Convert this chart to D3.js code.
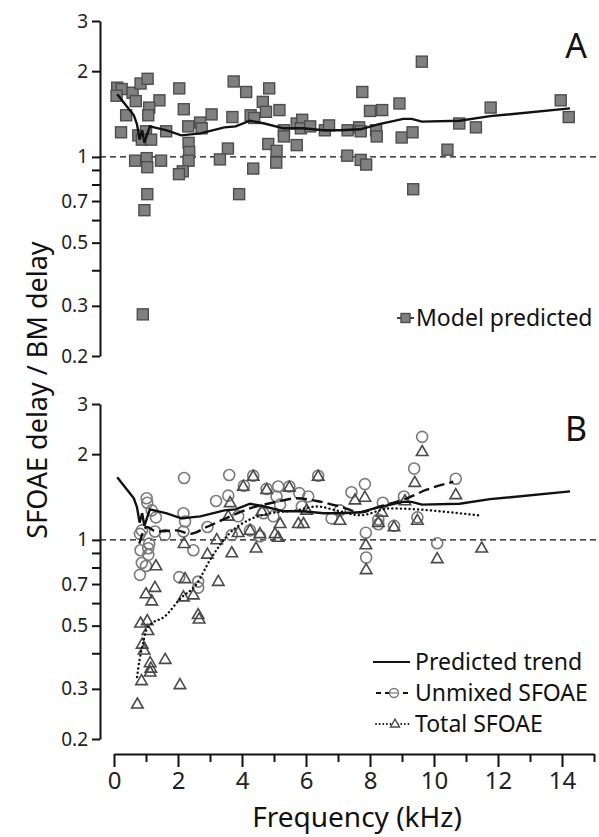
<!DOCTYPE html>
<html>
<head>
<meta charset="utf-8">
<script src="https://cdn.jsdelivr.net/npm/d3@7"></script>
<style>
    body { margin: 0; background: #fff; }
    svg { display: block; font-family: "Noto Sans", sans-serif; }
</style>
</head>
<body>
<svg id="chart" width="599" height="837"></svg>
<script>
// [frequency kHz, SFOAE delay / BM delay]
const modelPredicted = [
    [0.10, 1.75], [0.24, 1.73], [0.08, 1.64], [0.58, 1.68], [0.68, 1.57], [0.83, 1.81], [1.05, 1.88],
    [1.42, 1.58], [1.10, 1.49], [1.07, 1.40], [0.38, 1.40], [0.22, 1.22], [0.76, 1.19], [1.00, 1.23],
    [0.87, 1.15], [1.16, 1.15], [1.63, 1.23], [2.04, 1.74], [2.18, 1.47], [2.32, 1.28], [2.69, 1.32],
    [2.74, 1.26], [3.05, 1.41], [2.33, 1.12], [2.35, 1.04], [2.33, 0.97], [0.66, 0.97], [1.02, 0.99],
    [1.04, 0.92], [1.47, 0.97], [2.15, 0.89], [2.03, 0.87], [1.04, 0.74], [0.95, 0.65], [0.90, 0.28],
    [3.74, 1.84], [4.13, 1.69], [4.85, 1.74], [4.65, 1.56], [4.75, 1.44], [5.17, 1.46], [3.70, 1.38],
    [4.27, 1.40], [4.38, 1.37], [3.56, 1.07], [3.31, 0.98], [4.35, 0.91], [4.82, 1.11], [5.08, 1.05],
    [5.07, 0.955], [3.91, 0.74], [5.31, 1.24], [5.31, 1.18], [5.71, 1.10], [5.71, 1.31], [5.88, 1.35],
    [5.84, 1.26], [6.13, 1.28], [6.59, 1.24], [6.72, 1.29], [7.30, 1.24], [7.29, 1.01], [7.66, 1.27],
    [7.71, 1.23], [8.19, 1.24], [8.21, 1.18], [7.76, 1.69], [8.00, 1.45], [8.38, 1.46], [8.92, 1.54],
    [8.99, 1.17], [9.33, 1.22], [9.62, 2.16], [7.71, 0.976], [7.88, 0.94], [9.35, 0.77], [10.42, 1.06],
    [10.79, 1.31], [11.31, 1.27], [11.77, 1.49], [13.96, 1.58], [14.21, 1.38]
];

const predictedTrend = [
    [0.10, 1.66], [0.62, 1.40], [0.72, 1.30], [0.80, 1.15], [0.88, 1.24], [0.95, 1.12], [1.12, 1.28],
    [1.65, 1.24], [2.10, 1.19], [2.70, 1.21], [3.45, 1.27], [3.80, 1.28], [4.25, 1.34], [4.70, 1.31],
    [5.30, 1.26], [5.90, 1.26], [6.55, 1.24], [7.06, 1.24], [7.70, 1.25], [8.25, 1.30], [9.04, 1.36],
    [9.30, 1.36], [9.62, 1.33], [10.80, 1.34], [11.75, 1.39], [14.25, 1.48]
];

const unmixedPoints = [
    [2.19, 1.65], [3.60, 1.69], [4.35, 1.68], [6.38, 1.68], [1.02, 1.40], [1.04, 1.35], [1.18, 1.27],
    [1.31, 1.20], [3.19, 1.37], [3.57, 1.43], [4.06, 1.55], [4.77, 1.51], [5.13, 1.54], [5.48, 1.54],
    [5.08, 1.42], [5.19, 1.33], [5.79, 1.46], [6.07, 1.42], [5.87, 1.31], [2.17, 1.24], [2.22, 1.16],
    [3.88, 1.21], [4.67, 1.24], [4.98, 1.21], [4.25, 1.08], [4.56, 1.03], [0.87, 1.08], [0.81, 1.05],
    [1.28, 1.07], [1.59, 1.04], [2.17, 1.07], [2.92, 1.11], [3.68, 1.04], [1.10, 0.97], [1.07, 0.935],
    [0.83, 0.92], [1.07, 0.886], [0.87, 0.83], [1.00, 0.81], [0.81, 0.754], [2.48, 0.92], [2.04, 0.74],
    [2.63, 0.714], [2.63, 0.68], [6.80, 1.19], [7.06, 1.27], [7.42, 1.47], [9.63, 2.30], [9.38, 1.78],
    [10.68, 1.64], [7.84, 1.57], [8.40, 1.35], [9.06, 1.42], [8.26, 1.18], [8.26, 1.135], [8.75, 1.12],
    [9.48, 1.20], [7.87, 1.06], [7.88, 0.867], [10.10, 0.973]
];

const totalPoints = [
    [4.35, 1.67], [6.38, 1.67], [4.04, 1.54], [4.77, 1.50], [5.48, 1.53], [3.63, 1.35], [3.57, 1.21],
    [4.62, 1.26], [5.19, 1.14], [5.76, 1.14], [5.92, 1.14], [6.02, 1.27], [7.06, 1.17], [3.88, 1.06],
    [4.25, 1.08], [4.56, 1.05], [3.21, 1.00], [5.03, 1.05], [5.13, 1.02], [2.19, 0.97], [3.68, 0.90],
    [4.44, 0.935], [2.92, 0.89], [3.26, 0.714], [1.31, 0.81], [2.22, 0.73], [1.28, 0.68], [1.00, 0.646],
    [1.18, 0.61], [2.17, 0.63], [2.48, 0.64], [2.63, 0.546], [2.66, 0.527], [0.83, 0.51], [1.04, 0.52],
    [1.06, 0.48], [0.88, 0.43], [0.94, 0.41], [1.13, 0.37], [1.15, 0.354], [1.13, 0.343], [1.60, 0.38],
    [0.86, 0.32], [0.73, 0.265], [2.06, 0.31], [9.63, 2.04], [9.40, 1.59], [10.68, 1.44], [7.84, 1.41],
    [7.53, 1.38], [8.37, 1.25], [8.26, 1.15], [8.75, 1.11], [9.48, 1.17], [9.09, 1.37], [7.87, 0.96],
    [7.88, 0.785], [10.10, 0.858], [11.49, 0.935]
];

const unmixedTrend = [
    [0.79, 0.97], [1.02, 1.11], [1.33, 1.07], [1.96, 1.08], [2.38, 1.05], [2.90, 1.11], [3.63, 1.21],
    [4.25, 1.29], [5.08, 1.36], [5.71, 1.40], [6.33, 1.37], [7.06, 1.31], [7.69, 1.25], [8.31, 1.31],
    [9.15, 1.40], [9.77, 1.50], [10.60, 1.60]
];

const totalTrend = [
    [0.72, 0.33], [0.80, 0.38], [0.90, 0.43], [1.00, 0.48], [1.10, 0.50], [1.60, 0.54], [2.06, 0.62],
    [2.58, 0.70], [3.00, 0.85], [3.63, 1.06], [4.25, 1.18], [4.88, 1.24], [5.71, 1.27], [6.33, 1.31],
    [7.06, 1.26], [7.69, 1.22], [8.63, 1.29], [9.46, 1.28], [10.50, 1.25], [11.38, 1.22]
];

const yTicks = [3, 2, 1, 0.9, 0.8, 0.7, 0.6, 0.5, 0.4, 0.3, 0.2];
const yLabels = [3, 2, 1, 0.7, 0.5, 0.3, 0.2];
const xTicks = d3.range(0, 16);

const svg = d3.select("#chart");
const x = d3.scaleLinear().domain([0, 15]).range([114, 594]);
const axisX = 100;

const panels = [
    { label: "A", top: 21, bottom: 356 },
    { label: "B", top: 404, bottom: 739 }
];

const line = (y) => d3.line().x((d) => x(d[0])).y((d) => y(d[1]));

function squareMark(g, s) {
    return g.append("rect").attr("x", -s / 2).attr("y", -s / 2).attr("width", s).attr("height", s)
        .attr("fill", "#808080").attr("stroke", "#4d4d4d").attr("stroke-width", 1.4);
}
function triPath(s) {
    const h = s * 0.87;
    return `M0,${-h * 0.62}L${s / 2},${h * 0.38}L${-s / 2},${h * 0.38}Z`;
}

panels.forEach((p, i) => {
    const y = d3.scaleLog().domain([0.2, 3]).range([p.bottom, p.top]);
    const g = svg.append("g");

    // reference line at ratio 1
    g.append("line")
        .attr("x1", axisX).attr("x2", 596)
        .attr("y1", y(1)).attr("y2", y(1))
        .attr("stroke", "#111").attr("stroke-width", 1.2).attr("stroke-dasharray", "6,4");

    const yAxis = g.append("g")
        .attr("transform", `translate(${axisX},0)`)
        .call(d3.axisLeft(y).tickValues(yTicks).tickSize(8).tickSizeOuter(0)
            .tickFormat((d) => (yLabels.includes(d) ? d : "")));
    yAxis.select(".domain").attr("stroke", "#111").attr("stroke-width", 2);
    yAxis.selectAll(".tick line").attr("stroke", "#111").attr("stroke-width", 2);
    yAxis.selectAll(".tick text").attr("font-size", 19).attr("fill", "#222")
        .attr("font-family", "Noto Sans").attr("x", -12);

    if (i === 0) {
        const pts = g.selectAll(".sq").data(modelPredicted).enter().append("g")
            .attr("transform", (d) => `translate(${x(d[0])},${y(d[1])})`);
        pts.each(function () { squareMark(d3.select(this), 11); });

        g.append("path").datum(predictedTrend).attr("d", line(y))
            .attr("fill", "none").attr("stroke", "#111").attr("stroke-width", 2.4);

        // legend
        const lg = g.append("g").attr("transform", "translate(0,318)");
        lg.append("line").attr("x1", 397).attr("x2", 414).attr("stroke", "#111").attr("stroke-width", 1.6);
        squareMark(lg.append("g").attr("transform", "translate(405.5,0)"), 9);
        lg.append("text").attr("x", 416).attr("y", 8).attr("font-size", 23).attr("fill", "#111")
            .text("Model predicted");
    } else {
        g.selectAll(".circ").data(unmixedPoints).enter().append("circle")
            .attr("cx", (d) => x(d[0])).attr("cy", (d) => y(d[1])).attr("r", 5.5)
            .attr("fill", "none").attr("stroke", "#7a7a7a").attr("stroke-width", 1.6);
        g.selectAll(".tri").data(totalPoints).enter().append("path")
            .attr("transform", (d) => `translate(${x(d[0])},${y(d[1])})`)
            .attr("d", triPath(11.5))
            .attr("fill", "none").attr("stroke", "#4a4a4a").attr("stroke-width", 1.6);

        g.append("path").datum(predictedTrend).attr("d", line(y))
            .attr("fill", "none").attr("stroke", "#111").attr("stroke-width", 2.4);
        g.append("path").datum(unmixedTrend).attr("d", line(y).curve(d3.curveMonotoneX))
            .attr("fill", "none").attr("stroke", "#111").attr("stroke-width", 2.4)
            .attr("stroke-dasharray", "11,5");
        g.append("path").datum(totalTrend).attr("d", line(y).curve(d3.curveMonotoneX))
            .attr("fill", "none").attr("stroke", "#111").attr("stroke-width", 2.4)
            .attr("stroke-dasharray", "0.1,4.2").attr("stroke-linecap", "round");

        // legend
        const rows = [
            { name: "Predicted trend", y: 662, dash: null },
            { name: "Unmixed SFOAE", y: 693, dash: "5,4" },
            { name: "Total SFOAE", y: 724, dash: "0.1,3.5" }
        ];
        rows.forEach((r, k) => {
            const lg = g.append("g").attr("transform", `translate(0,${r.y})`);
            lg.append("line").attr("x1", k === 0 ? 373 : 376).attr("x2", 410)
                .attr("stroke", "#111").attr("stroke-width", k === 0 ? 2.2 : 1.8)
                .attr("stroke-dasharray", r.dash).attr("stroke-linecap", k === 2 ? "round" : "butt");
            if (k === 1) {
                lg.append("circle").attr("cx", 394).attr("r", 4.5).attr("fill", "#fff")
                    .attr("stroke", "#7a7a7a").attr("stroke-width", 1.4);
                lg.append("line").attr("x1", 390).attr("x2", 398).attr("stroke", "#7a7a7a").attr("stroke-width", 1.2);
            }
            if (k === 2) {
                lg.append("path").attr("transform", "translate(395,0)").attr("d", triPath(9))
                    .attr("fill", "#fff").attr("stroke", "#4a4a4a").attr("stroke-width", 1.4);
            }
            lg.append("text").attr("x", 415).attr("y", 8).attr("font-size", 23).attr("fill", "#111")
                .text(r.name);
        });
    }

    svg.append("text").attr("x", 576).attr("y", p.top + 37).attr("text-anchor", "middle")
        .attr("font-size", 34).attr("fill", "#111").text(p.label);
});

// x axis
const xAxis = svg.append("g").attr("transform", "translate(0,754)")
    .call(d3.axisBottom(x).tickValues(xTicks).tickSize(13).tickSizeOuter(0)
        .tickFormat((d) => (d % 2 ? "" : d)));
xAxis.select(".domain").attr("stroke", "#111").attr("stroke-width", 2);
xAxis.selectAll(".tick line").attr("stroke", "#111").attr("stroke-width", 2)
    .attr("y2", (d) => (d % 2 ? 8 : 13));
xAxis.selectAll(".tick text").attr("font-size", 24).attr("fill", "#222")
    .attr("font-family", "Noto Sans").attr("y", 18);

svg.append("text").attr("x", 357).attr("y", 827).attr("text-anchor", "middle")
    .attr("font-size", 28).attr("fill", "#111").text("Frequency (kHz)");

svg.append("text").attr("transform", "translate(47,390) rotate(-90)").attr("text-anchor", "middle")
    .attr("font-size", 27).attr("fill", "#111").text("SFOAE delay / BM delay");
</script>
</body>
</html>
